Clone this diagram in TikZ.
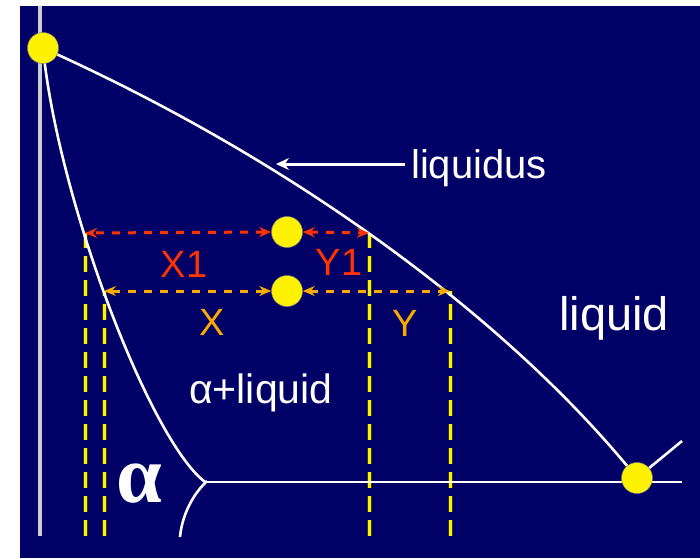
\documentclass[tikz,border=0pt]{standalone}
\usepackage{fontspec}
\setmainfont{Liberation Sans}
\newfontfamily\greekserif{Liberation Serif}
\usetikzlibrary{arrows.meta}
\definecolor{navy}{RGB}{0,0,102}
\definecolor{leverred}{RGB}{255,51,0}
\definecolor{leverorange}{RGB}{250,170,0}
\definecolor{axisgrey}{RGB}{205,205,210}
\tikzset{
  phasedot/.style={circle, fill=yellow, draw=black!50, line width=0.5pt, minimum size=31pt, inner sep=0pt},
  boundary/.style={white, line width=2.6pt},
  tieline/.style={yellow, line width=3pt, dash pattern=on 16pt off 8pt,
    preaction={draw=black!80, line width=5pt, dash pattern=on 16pt off 8pt}},
  leverarrow/.style={{Stealth[length=12pt,width=10pt]}-{Stealth[length=12pt,width=10pt]}, line width=3pt, dash pattern=on 8pt off 8pt},
  txt/.style={inner sep=0pt, anchor=base west, white}
}
\begin{document}
\begin{tikzpicture}[x=1pt, y=-1pt]
  \useasboundingbox (0,0) rectangle (700,558);
  \fill[navy] (20,6) rectangle (700,558);

  \coordinate (topc) at (43,48);
  \coordinate (eutc) at (637,478);
  \coordinate (eutl) at (205,482);
  \coordinate (eutr) at (682,482);
  \coordinate (tail) at (682,441);
  \coordinate (axtop) at (40,6);
  \coordinate (axbot) at (40,536);
  \coordinate (sx1) at (85,233);
  \coordinate (lx1) at (369,233);
  \coordinate (sx) at (104,291);
  \coordinate (lx) at (450,291);
  \coordinate (liqpt) at (276,164);

  \draw[axisgrey, line width=3.5pt] (axtop) -- (axbot);
  \draw[tieline] (sx1 |- axbot) -- (sx1);
  \draw[tieline] (sx |- axbot) -- (sx);
  \draw[tieline] (lx1 |- axbot) -- (lx1);
  \draw[tieline] (lx |- axbot) -- (lx);

  \draw[boundary] (topc) .. controls (293,160) and (510,320) .. (eutc);
  \draw[boundary] (topc) .. controls (58,200) and (150,440) .. (eutl);
  \draw[boundary] (eutl) -- (eutr);
  \draw[boundary] (eutc) -- (tail);
  \draw[boundary] (207,481) .. controls (193,494) and (182,515) .. (180,537);

  \node[phasedot] (top) at (topc) {};
  \node[phasedot] (eut) at (eutc) {};
  \node[phasedot] (mid1) at (287,232) {};
  \node[phasedot] (mid2) at (287,291) {};

  \draw[leverarrow, leverred] (mid1.west) -- (sx1);
  \draw[leverarrow, leverred] (mid1.east) -- (lx1);
  \draw[leverarrow, leverorange] (mid2.west) -- (sx);
  \draw[leverarrow, leverorange] (mid2.east) -- (lx);

  \node[txt, font=\fontsize{40}{40}\selectfont] (liqlabel) at (411,178) {liquidus};
  \draw[white, line width=3pt, -{Stealth[length=13pt,width=12pt]}] ([xshift=-6pt]liqlabel.west |- liqpt) -- (liqpt);
  \node[txt, font=\fontsize{47}{47}\selectfont] (liq) at (559,330) {liquid};
  \node[txt, font=\fontsize{41}{41}\selectfont] (twophase) at (189,403) {α+liquid};
  \node[txt, anchor=base, leverred, font=\fontsize{38}{38}\selectfont] (x1) at (184,277) {X1};
  \node[txt, anchor=base, leverred, font=\fontsize{38}{38}\selectfont] (y1) at (339,275) {Y1};
  \node[txt, anchor=base, leverorange, font=\fontsize{38}{38}\selectfont] (xl) at (212,335) {X};
  \node[txt, anchor=base, leverorange, font=\fontsize{38}{38}\selectfont] (yl) at (405,336) {Y};
  \node[txt, anchor=base, font=\greekserif\bfseries\fontsize{82}{82}\selectfont] (alpha) at (139,502) {α};
\end{tikzpicture}
\end{document}
